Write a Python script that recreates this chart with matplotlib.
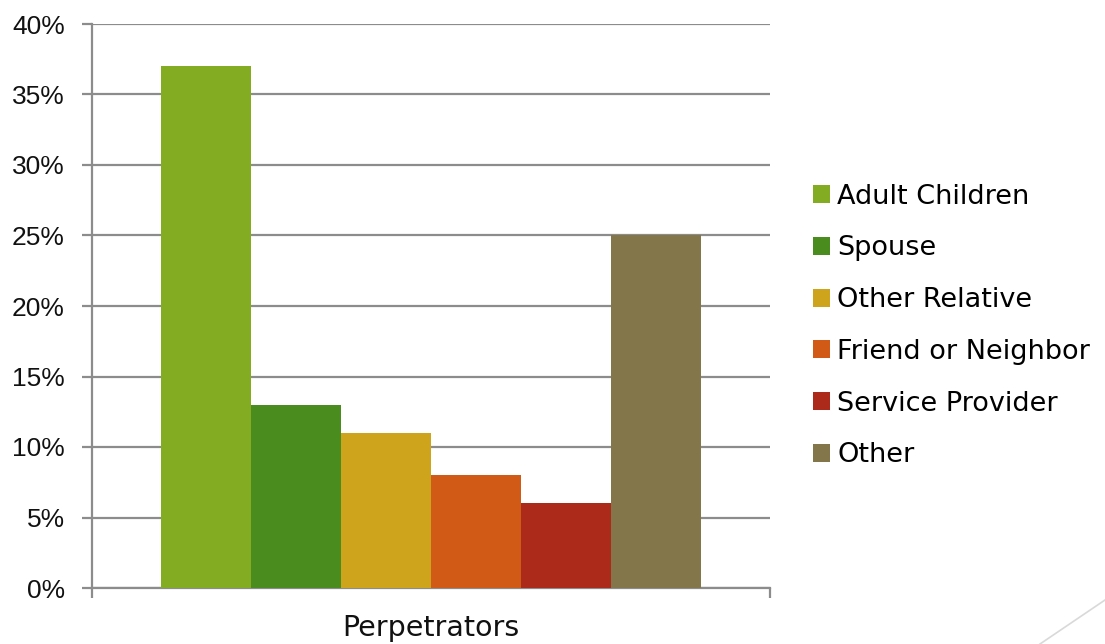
import matplotlib
matplotlib.use('Agg')
import matplotlib.pyplot as plt
from matplotlib.patches import Patch
from matplotlib.lines import Line2D

categories = ['Adult Children', 'Spouse', 'Other Relative',
              'Friend or Neighbor', 'Service Provider', 'Other']
values = [37, 13, 11, 8, 6, 25]
colors = ['#83ac22', '#4a8c1e', '#cea41c', '#d05a16', '#ab2a1a', '#82764a']
group_label = 'Perpetrators'
yticks = [0, 5, 10, 15, 20, 25, 30, 35, 40]

grey = '#8c8c8c'

fig = plt.figure(figsize=(11.05, 6.44), dpi=100)
ax = fig.add_axes([92 / 1105, 56 / 644, 678 / 1105, 564 / 644])

bar_w = 90 / 678
start = -bar_w * len(values) / 2
for i, (v, c) in enumerate(zip(values, colors)):
    ax.bar(start + bar_w * (i + 0.5), v, width=bar_w, color=c, zorder=3)

ax.set_xlim(-0.5, 0.5)
ax.set_ylim(0, 40)
ax.set_yticks(yticks)
ax.set_yticklabels([f'{t}%' for t in yticks], fontsize=19,
                   family='Liberation Sans', color='#111111')
ax.yaxis.grid(True, color=grey, linewidth=1.6, zorder=0)
ax.tick_params(axis='y', length=7.5, width=1.6, color=grey, pad=12)

ax.set_xticks([-0.5, 0.5])
ax.set_xticklabels(['', ''])
ax.set_xticks([0], minor=True)
ax.set_xticklabels([group_label], minor=True, fontsize=20.5,
                   family='DejaVu Sans', color='#111111')
ax.tick_params(axis='x', which='major', length=7.5, width=1.6, color=grey)
ax.tick_params(axis='x', which='minor', length=0, pad=19)

for s in ['top', 'right']:
    ax.spines[s].set_visible(False)
for s in ['left', 'bottom']:
    ax.spines[s].set_color(grey)
    ax.spines[s].set_linewidth(1.6)

handles = [Patch(facecolor=c, edgecolor='none') for c in colors]
fig.legend(handles, categories, loc='center left',
           bbox_to_anchor=(802 / 1105, 1 - 326 / 644), frameon=False,
           handlelength=0.65, handleheight=0.65,
           handletextpad=0.25, labelspacing=0.95, borderaxespad=0,
           prop={'family': 'DejaVu Sans', 'size': 19.5})

# decorative corner line
fig.add_artist(Line2D([1040 / 1105, 1.0], [0, 44 / 644], color='#d9d9d9',
                      linewidth=1.2, transform=fig.transFigure))

fig.savefig('out.png', dpi=100, facecolor='white')
plt.close(fig)
